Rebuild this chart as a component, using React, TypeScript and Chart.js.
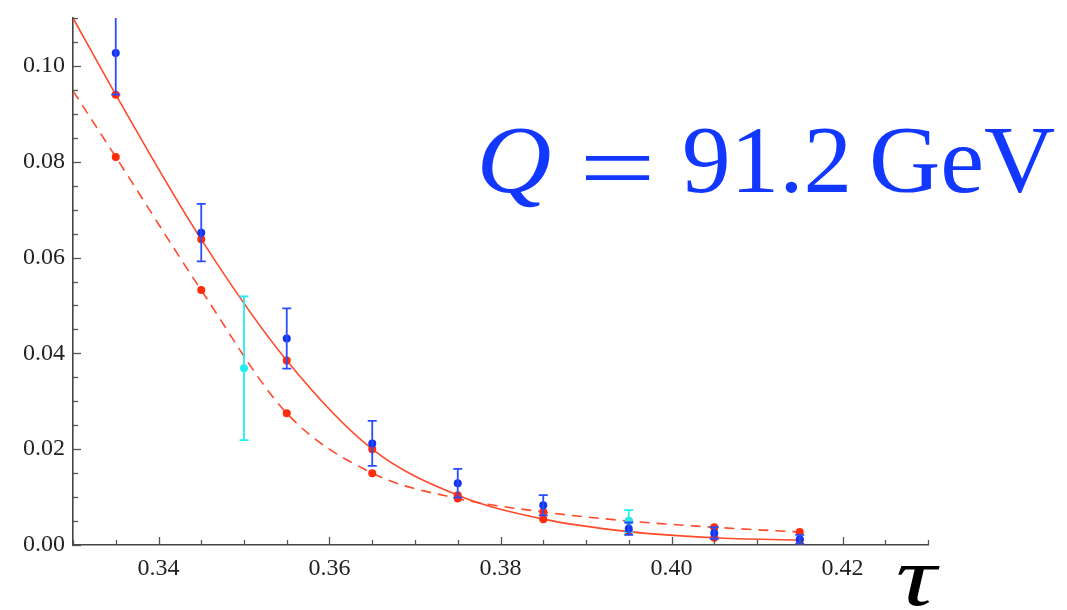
import React, { useEffect, useRef } from "react";
import { Chart, registerables } from "chart.js";

Chart.register(...registerables);

// ---- data ----
const TAU = [0.335, 0.345, 0.355, 0.365, 0.375, 0.385, 0.395, 0.405, 0.415];
const BLUE_Y = [0.1027, 0.0652, 0.0431, 0.0212, 0.0129, 0.0083, 0.0034, 0.0025, 0.0012];
const BLUE_ERR = [0.0087, 0.006, 0.0063, 0.0047, 0.003, 0.0021, 0.0013, 0.0012, 0.0009];
const CYAN_X = [0.35, 0.395];
const CYAN_Y = [0.0369, 0.005];
const CYAN_ERR = [0.015, 0.0023];
const RED_SOLID = [0.094, 0.0638, 0.0385, 0.02, 0.0104, 0.0054, 0.0028, 0.0015, 0.001];
const RED_DASHED = [0.081, 0.0532, 0.0275, 0.015, 0.0097, 0.0069, 0.005, 0.0037, 0.0027];
const CURVE_START_X = 0.33;
const SOLID_START_Y = 0.11;
const DASHED_START_Y = 0.0948;
const X_TICKS = [0.34, 0.36, 0.38, 0.4, 0.42];
const Y_TICKS = [0.0, 0.02, 0.04, 0.06, 0.08, 0.1];
const X_RANGE = [0.33, 0.43];
const Y_RANGE = [0.0, 0.11];
const MINOR_STEP = 0.005;
const TITLE_PARTS = ["Q", "=", "91.2", "GeV"];
const AXIS_SYMBOL = "τ";

const BLUE = "#1034f2";
const BLUE_BAR = "#2a4cff";
const CYAN = "#22eef0";
const RED = "#ff2c0c";
const RED_LINE = "#ff4a2a";
const TEXT_BLUE = "#1238ff";
const SERIF = "'Liberation Serif', 'Times New Roman', serif";

const pts = (xs: number[], ys: number[]) => xs.map((x, i) => ({ x, y: ys[i] }));

const errorBarPlugin = {
  id: "errorBars",
  afterDatasetDraw(chart: any, args: any) {
    const ds = chart.data.datasets[args.index];
    if (!ds.errors) return;
    const { ctx, chartArea, scales } = chart;
    ctx.save();
    ctx.beginPath();
    ctx.rect(chartArea.left, chartArea.top, chartArea.right - chartArea.left, chartArea.bottom - chartArea.top + 4);
    ctx.clip();
    ctx.strokeStyle = ds.errorColor;
    ctx.lineWidth = 1.8;
    ds.data.forEach((p: any, i: number) => {
      const e = ds.errors[i];
      const x = scales.x.getPixelForValue(p.x);
      const y1 = scales.y.getPixelForValue(p.y + e);
      const y2 = scales.y.getPixelForValue(p.y - e);
      ctx.beginPath();
      ctx.moveTo(x, y1);
      ctx.lineTo(x, y2);
      ctx.moveTo(x - 4.5, y1);
      ctx.lineTo(x + 4.5, y1);
      ctx.moveTo(x - 4.5, y2);
      ctx.lineTo(x + 4.5, y2);
      ctx.stroke();
    });
    ctx.restore();
  },
};

const ticksPlugin = {
  id: "innerTicks",
  afterDraw(chart: any) {
    const { ctx, chartArea, scales } = chart;
    ctx.save();
    ctx.strokeStyle = "#555";
    ctx.lineWidth = 1.3;
    const isMajor = (v: number, list: number[]) => list.some((t) => Math.abs(t - v) < 1e-6);
    const nx = Math.round((X_RANGE[1] - X_RANGE[0]) / MINOR_STEP);
    for (let i = 0; i <= nx; i++) {
      const v = X_RANGE[0] + i * MINOR_STEP;
      const x = Math.round(scales.x.getPixelForValue(v)) + 0.5;
      const len = isMajor(v, X_TICKS) ? 8 : 5;
      ctx.beginPath();
      ctx.moveTo(x, chartArea.bottom);
      ctx.lineTo(x, chartArea.bottom - len);
      ctx.stroke();
    }
    const ny = Math.round((Y_RANGE[1] - Y_RANGE[0]) / MINOR_STEP);
    for (let i = 0; i <= ny; i++) {
      const v = Y_RANGE[0] + i * MINOR_STEP;
      const y = Math.round(scales.y.getPixelForValue(v)) + 0.5;
      const len = isMajor(v, Y_TICKS) ? 8 : 5;
      ctx.beginPath();
      ctx.moveTo(chartArea.left, y);
      ctx.lineTo(chartArea.left + len, y);
      ctx.stroke();
    }
    ctx.restore();
  },
};

// draws text so that its ink starts at `left`, spans `width`, on the given baseline
function fitText(ctx: any, text: string, font: string, left: number, width: number, baseline: number) {
  ctx.font = font;
  const m = ctx.measureText(text);
  const inkW = m.actualBoundingBoxLeft + m.actualBoundingBoxRight;
  const sx = width / inkW;
  ctx.save();
  ctx.translate(left, baseline);
  ctx.scale(sx, 1);
  ctx.fillText(text, m.actualBoundingBoxLeft, 0);
  ctx.restore();
}

// draws text so that its ink fills the given box
function fitBox(ctx: any, text: string, font: string, left: number, top: number, width: number, height: number) {
  ctx.font = font;
  const m = ctx.measureText(text);
  const inkW = m.actualBoundingBoxLeft + m.actualBoundingBoxRight;
  const inkH = m.actualBoundingBoxAscent + m.actualBoundingBoxDescent;
  ctx.save();
  ctx.translate(left, top);
  ctx.scale(width / inkW, height / inkH);
  ctx.fillText(text, m.actualBoundingBoxLeft, m.actualBoundingBoxAscent);
  ctx.restore();
}

const textPlugin = {
  id: "bigText",
  afterDraw(chart: any) {
    const { ctx } = chart;
    ctx.save();
    ctx.fillStyle = TEXT_BLUE;
    ctx.textBaseline = "alphabetic";
    ctx.textAlign = "left";
    fitText(ctx, TITLE_PARTS[0], "italic 96px " + SERIF, 482, 68, 192);
    fitBox(ctx, TITLE_PARTS[1], "96px " + SERIF, 585, 156, 65, 24);
    fitText(ctx, TITLE_PARTS[2], "96px " + SERIF, 685, 162, 192);
    fitText(ctx, TITLE_PARTS[3], "96px " + SERIF, 872, 183, 192);
    ctx.fillStyle = "#000";
    fitText(ctx, AXIS_SYMBOL, "italic 84px " + SERIF, 897, 43, 605);
    ctx.restore();
  },
};

export default function App() {
  const ref = useRef<HTMLCanvasElement | null>(null);
  useEffect(() => {
    document.body.style.margin = "0";
    const tickFont = { family: SERIF, size: 24 };
    const chart = new Chart(ref.current as HTMLCanvasElement, {
      type: "scatter",
      data: {
        datasets: [
          {
            label: "data",
            data: pts(TAU, BLUE_Y),
            errors: BLUE_ERR,
            errorColor: BLUE_BAR,
            backgroundColor: BLUE,
            borderWidth: 0,
            pointRadius: 4,
          } as any,
          {
            label: "data2",
            data: pts(CYAN_X, CYAN_Y),
            errors: CYAN_ERR,
            errorColor: CYAN,
            backgroundColor: CYAN,
            borderWidth: 0,
            pointRadius: 4,
          } as any,
          {
            label: "solid pts",
            data: pts(TAU, RED_SOLID),
            backgroundColor: RED,
            borderWidth: 0,
            pointRadius: 4,
          },
          {
            label: "dashed pts",
            data: pts(TAU, RED_DASHED),
            backgroundColor: RED,
            borderWidth: 0,
            pointRadius: 4,
          },
          {
            label: "solid",
            data: [{ x: CURVE_START_X, y: SOLID_START_Y }, ...pts(TAU, RED_SOLID)],
            showLine: true,
            borderColor: RED_LINE,
            borderWidth: 1.6,
            pointRadius: 0,
            cubicInterpolationMode: "monotone",
          } as any,
          {
            label: "dashed",
            data: [{ x: CURVE_START_X, y: DASHED_START_Y }, ...pts(TAU, RED_DASHED)],
            showLine: true,
            borderColor: RED_LINE,
            borderWidth: 1.6,
            borderDash: [10, 7],
            pointRadius: 0,
            cubicInterpolationMode: "monotone",
          } as any,
        ],
      },
      options: {
        animation: false,
        responsive: true,
        maintainAspectRatio: false,
        layout: { padding: { top: 18, right: 139, left: 0, bottom: 0 } },
        plugins: { legend: { display: false }, tooltip: { enabled: false } },
        scales: {
          x: {
            type: "linear",
            min: X_RANGE[0],
            max: X_RANGE[1],
            grid: { display: false, drawTicks: false },
            border: { display: true, color: "#444", width: 1.6 },
            afterBuildTicks: (s: any) => {
              s.ticks = X_TICKS.map((v) => ({ value: v }));
            },
            afterFit: (s: any) => {
              s.height = 65;
              s.paddingLeft = 0;
              s.paddingRight = 0;
            },
            ticks: {
              font: tickFont,
              color: "#222",
              padding: 9,
              maxRotation: 0,
              callback: (v: any) => Number(v).toFixed(2),
            },
          },
          y: {
            type: "linear",
            min: Y_RANGE[0],
            max: Y_RANGE[1],
            grid: { display: false, drawTicks: false },
            border: { display: true, color: "#444", width: 1.6 },
            afterBuildTicks: (s: any) => {
              s.ticks = Y_TICKS.map((v) => ({ value: v }));
            },
            afterFit: (s: any) => {
              s.width = 73;
              s.paddingTop = 0;
              s.paddingBottom = 0;
            },
            ticks: {
              font: tickFont,
              color: "#222",
              padding: 8,
              callback: (v: any) => Number(v).toFixed(2),
            },
          },
        },
      } as any,
      plugins: [errorBarPlugin, ticksPlugin, textPlugin],
    });
    return () => chart.destroy();
  }, []);
  return (
    <div style={{ position: "absolute", left: 0, top: 0, width: 1067, height: 610, background: "#fff" }}>
      <canvas ref={ref} />
    </div>
  );
}
